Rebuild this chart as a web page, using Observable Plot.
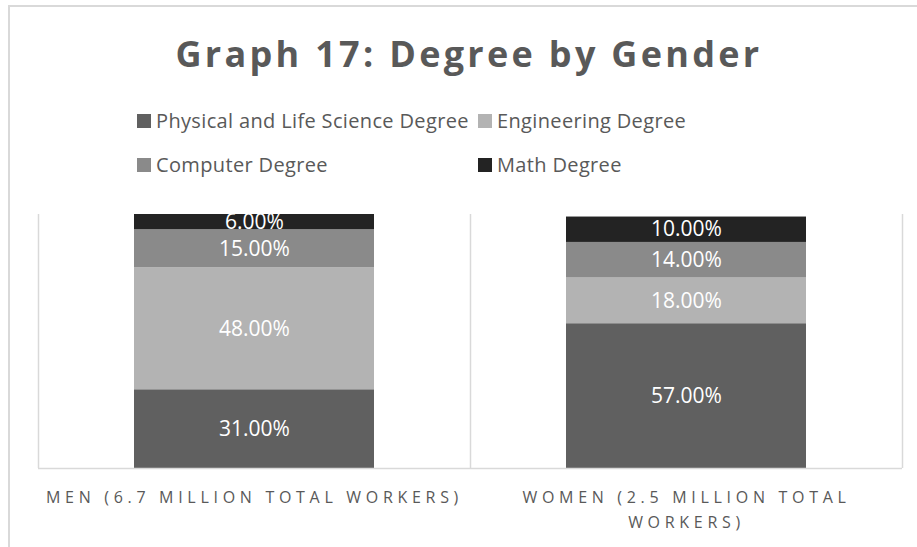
<!DOCTYPE html>
<html>
<head>
<meta charset="utf-8">
<script src="https://cdn.jsdelivr.net/npm/d3@7"></script>
<script src="https://cdn.jsdelivr.net/npm/@observablehq/plot@0.6"></script>
<style>
  html, body { margin: 0; padding: 0; background: #fff; overflow: hidden; width: 917px; height: 547px; }
  body { position: relative; font-family: "Open Sans", sans-serif; color: #595959; }
  #frame { position: absolute; left: 8px; top: 5px; width: 1000px; height: 1000px;
           border-top: 2px solid #d9d9d9; border-left: 2px solid #d9d9d9; box-sizing: border-box; }
  #title { position: absolute; left: 0; width: 938px; top: 36px; text-align: center;
           font-size: 36px; line-height: 36px; font-weight: 700; letter-spacing: 3.3px; white-space: nowrap; }
  .leg { position: absolute; font-size: 20px; line-height: 20px; letter-spacing: 0.35px; white-space: nowrap; }
  .sw { position: absolute; width: 14px; height: 14px; }
  #chart { position: absolute; left: 0; top: 200px; }
</style>
</head>
<body>
<div id="frame"></div>
<div id="title"></div>
<div id="legend"></div>
<div id="chart"></div>
<script>
const titleText = "Graph 17: Degree by Gender";
const genders = ["Men (6.7 Million Total Workers)", "Women (2.5 Million Total Workers)"];
const tickLabels = ["MEN (6.7 MILLION TOTAL WORKERS)", "WOMEN (2.5 MILLION TOTAL\nWORKERS)"];
const series = ["Physical and Life Science Degree", "Engineering Degree", "Computer Degree", "Math Degree"];
const men = [31, 48, 15, 6];
const women = [57, 18, 14, 10];
const colors = ["#606060", "#b3b3b3", "#8a8a8a", "#232323"];

document.getElementById("title").textContent = titleText;

// legend (two rows, two columns)
const legPos = [[137, 111], [478, 111], [137, 155], [478, 155]];
const legend = document.getElementById("legend");
series.forEach((s, i) => {
  const [lx, ly] = legPos[i];
  const sw = document.createElement("div");
  sw.className = "sw";
  sw.style.left = lx + "px";
  sw.style.top = (ly + 3) + "px";
  sw.style.background = colors[i];
  legend.appendChild(sw);
  const t = document.createElement("div");
  t.className = "leg";
  t.style.left = (lx + 19) + "px";
  t.style.top = ly + "px";
  t.textContent = s;
  legend.appendChild(t);
});

const data = [];
genders.forEach((g, gi) => {
  const vals = gi === 0 ? men : women;
  series.forEach((s, i) => data.push({gender: g, series: s, value: vals[i]}));
});

const W = 917, H = 347, mL = 38, mR = 15, mT = 14, mB = 79;
const bw = (W - mL - mR) / genders.length;

const plot = Plot.plot({
  width: W, height: H,
  marginLeft: mL, marginRight: mR, marginTop: mT, marginBottom: mB,
  style: {fontFamily: "'Open Sans', sans-serif", background: "transparent", overflow: "visible"},
  x: {domain: genders, padding: 0},
  y: {domain: [0, 100], axis: null},
  color: {domain: series, range: colors},
  marks: [
    Plot.ruleX(genders, {x: d => d, dx: -bw / 2, stroke: "#d9d9d9", strokeWidth: 1.5}),
    Plot.ruleX([genders[genders.length - 1]], {x: d => d, dx: bw / 2, stroke: "#d9d9d9", strokeWidth: 1.5}),
    Plot.barY(data, {x: "gender", y: "value", fill: "series", insetLeft: 96, insetRight: 96}),
    Plot.ruleY([0], {stroke: "#d9d9d9", strokeWidth: 1.5}),
    Plot.text(data, Plot.stackY({
      x: "gender", y: "value", z: "series",
      text: d => d.value.toFixed(2) + "%",
      fill: "white", fontSize: 21, clip: true
    })),
    Plot.axisX({
      tickSize: 0, tickPadding: 17, label: null,
      tickFormat: d => tickLabels[genders.indexOf(d)],
      fontSize: 16, lineHeight: 1.55, fill: "#595959"
    })
  ]
});
d3.select(plot).selectAll('g[aria-label="x-axis tick label"] text').style("letter-spacing", "4.7px");
document.getElementById("chart").appendChild(plot);
</script>
</body>
</html>
